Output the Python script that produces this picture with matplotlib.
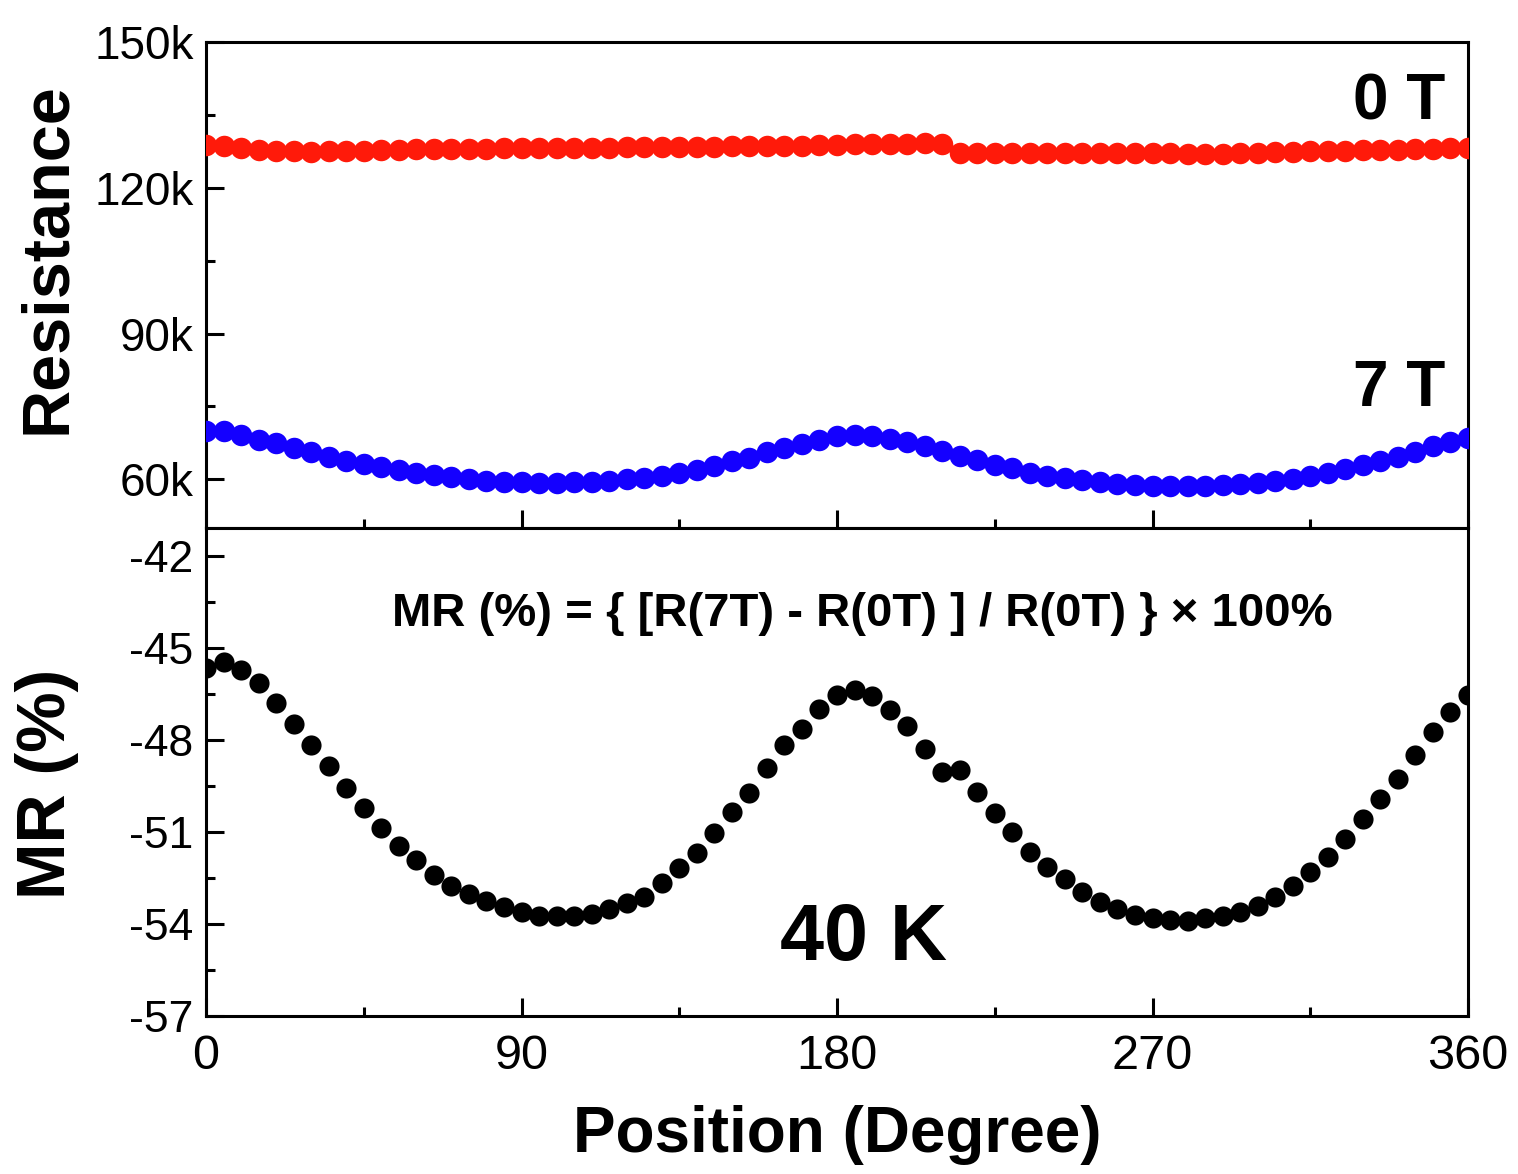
import matplotlib
matplotlib.use("Agg")
import matplotlib.pyplot as plt
from matplotlib.ticker import MultipleLocator, FuncFormatter, FixedLocator

plt.rcParams['font.family'] = ['Liberation Sans', 'DejaVu Sans']
plt.rcParams['axes.unicode_minus'] = False

# ---- data ----
angle = list(range(0, 361, 5))

r_0T = [128.8, 128.5, 128.1, 127.8, 127.6, 127.5, 127.4, 127.5, 127.5, 127.6,
        127.7, 127.8, 127.9, 127.9, 128.0, 128.0, 128.0, 128.1, 128.1, 128.1,
        128.1, 128.2, 128.2, 128.2, 128.3, 128.3, 128.3, 128.4, 128.4, 128.4,
        128.5, 128.5, 128.6, 128.6, 128.7, 128.8, 128.9, 129.0, 129.1, 129.1,
        129.1, 129.2, 129.1, 127.1, 127.1, 127.1, 127.1, 127.2, 127.2, 127.2,
        127.2, 127.2, 127.1, 127.1, 127.1, 127.1, 127.0, 127.0, 127.0, 127.1,
        127.2, 127.3, 127.4, 127.5, 127.6, 127.6, 127.7, 127.8, 127.8, 127.9,
        128.0, 128.1, 128.2]  # kOhm

r_7T = [69.9, 69.9, 69.1, 68.2, 67.5, 66.5, 65.6, 64.7, 63.8, 63.2,
        62.5, 61.9, 61.4, 60.9, 60.4, 60.0, 59.7, 59.5, 59.4, 59.3,
        59.3, 59.4, 59.5, 59.7, 60.0, 60.3, 60.8, 61.4, 62.0, 62.8,
        63.7, 64.5, 65.6, 66.5, 67.3, 68.2, 68.9, 69.2, 69.0, 68.4,
        67.7, 66.8, 65.8, 64.9, 63.9, 63.0, 62.3, 61.4, 60.8, 60.3,
        59.8, 59.4, 59.1, 58.9, 58.7, 58.6, 58.6, 58.7, 58.8, 59.0,
        59.3, 59.6, 60.1, 60.7, 61.3, 62.1, 62.9, 63.8, 64.7, 65.7,
        66.8, 67.7, 68.5]  # kOhm

mr = [-45.65, -45.45, -45.74, -46.15, -46.79, -47.50, -48.16, -48.84, -49.57, -50.23,
      -50.88, -51.47, -51.93, -52.42, -52.75, -53.04, -53.25, -53.45, -53.62, -53.73,
      -53.73, -53.73, -53.67, -53.50, -53.32, -53.11, -52.67, -52.17, -51.69, -51.03,
      -50.36, -49.74, -48.92, -48.18, -47.64, -46.99, -46.55, -46.37, -46.59, -47.02,
      -47.56, -48.31, -49.05, -48.98, -49.71, -50.39, -51.01, -51.66, -52.15, -52.53,
      -52.97, -53.29, -53.51, -53.71, -53.81, -53.86, -53.89, -53.81, -53.73, -53.60,
      -53.40, -53.13, -52.75, -52.31, -51.82, -51.23, -50.58, -49.92, -49.27, -48.51,
      -47.75, -47.10, -46.55]

x_ticks = [0, 90, 180, 270, 360]
r_ticks = [60000, 90000, 120000, 150000]
mr_ticks = [-42, -45, -48, -51, -54, -57]

# ---- figure ----
W, H = 1518, 1174
fig = plt.figure(figsize=(W / 100, H / 100), dpi=100)

def frac(x0, y0, x1, y1):
    return [x0 / W, 1 - y1 / H, (x1 - x0) / W, (y1 - y0) / H]

ax1 = fig.add_axes(frac(206, 42, 1468, 528))
ax2 = fig.add_axes(frac(206, 528, 1468, 1016))

red = '#FF1A0A'
blue = '#1400FF'

ax1.plot(angle, [v * 1000 for v in r_0T], 'o', color=red, ms=15.5, mec='none', zorder=3)
ax1.plot(angle, [v * 1000 for v in r_7T], 'o', color=blue, ms=15.5, mec='none', zorder=3)
ax2.plot(angle, mr, 'o', color='black', ms=14.5, mec='none', zorder=3)

for ax in (ax1, ax2):
    ax.set_xlim(0, 360)
    ax.xaxis.set_major_locator(FixedLocator(x_ticks))
    ax.xaxis.set_minor_locator(MultipleLocator(45))
    ax.tick_params(which='both', direction='in', width=2.2, top=False, right=False)
    ax.tick_params(which='major', length=13)
    ax.tick_params(which='minor', length=6.5)
    for s in ax.spines.values():
        s.set_linewidth(2.2)

ax1.set_ylim(50000, 150000)
ax1.yaxis.set_major_locator(FixedLocator(r_ticks))
ax1.yaxis.set_minor_locator(MultipleLocator(15000))
ax1.yaxis.set_major_formatter(FuncFormatter(lambda v, p: f"{int(round(v / 1000))}k"))
ax1.tick_params(axis='x', labelbottom=False)
ax1.tick_params(axis='y', labelsize=33, pad=9)

ax2.set_ylim(-57, -41.1)
ax2.yaxis.set_major_locator(FixedLocator(mr_ticks))
ax2.yaxis.set_minor_locator(MultipleLocator(1.5))
ax2.tick_params(axis='y', labelsize=32, pad=9)
ax2.tick_params(axis='x', labelsize=35, pad=13)

ax1.set_ylabel('Resistance', fontsize=48, fontweight='bold')
ax1.yaxis.set_label_coords(-0.101, 0.555)
ax2.set_ylabel('MR (%)', fontsize=49, fontweight='bold')
ax2.yaxis.set_label_coords(-0.101, 0.475)
ax2.set_xlabel('Position (Degree)', fontsize=46, fontweight='bold')
ax2.xaxis.set_label_coords(0.5, -0.183)

ax1.text(0.982, 0.875, '0 T', transform=ax1.transAxes, ha='right', va='center',
         fontsize=46, fontweight='bold')
ax1.text(0.982, 0.285, '7 T', transform=ax1.transAxes, ha='right', va='center',
         fontsize=46, fontweight='bold')
ax2.text(0.52, 0.823, 'MR (%) = { [R(7T) - R(0T) ] / R(0T) } \u00d7 100%', transform=ax2.transAxes,
         ha='center', va='center', fontsize=34, fontweight='bold')
ax2.text(0.521, 0.156, '40 K', transform=ax2.transAxes, ha='center', va='center',
         fontsize=57, fontweight='bold')

fig.savefig('out.png', dpi=100)
